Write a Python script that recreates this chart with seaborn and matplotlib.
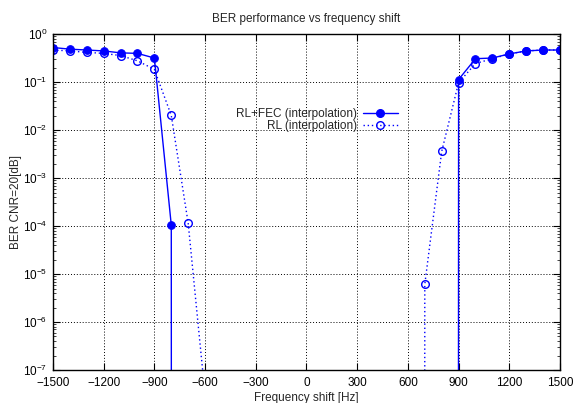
import numpy as np
import pandas as pd
import matplotlib
matplotlib.use("Agg")
import matplotlib.pyplot as plt
import seaborn as sns
from matplotlib.lines import Line2D
from matplotlib.ticker import LogLocator, FixedLocator

freq = [-1500, -1400, -1300, -1200, -1100, -1000, -900, -800, -700, -600, -500, -400,
        -300, -200, -100, 0, 100, 200, 300, 400, 500, 600, 700, 800, 900, 1000,
        1100, 1200, 1300, 1400, 1500]
ber_fec = [0.53, 0.49, 0.47, 0.45, 0.41, 0.40, 0.32, 1.05e-4, 0, 0, 0, 0,
           0, 0, 0, 0, 0, 0, 0, 0, 0, 0, 0, 0, 0.114, 0.31,
           0.32, 0.39, 0.45, 0.47, 0.47]
ber_rl = [0.47, 0.45, 0.42, 0.40, 0.36, 0.28, 0.185, 0.0203, 1.15e-4, 3e-8, 0, 0,
          0, 0, 0, 0, 0, 0, 0, 0, 0, 0, 6.1e-6, 3.6e-3, 0.098, 0.246,
          0.31, 0.39, 0.45, 0.47, 0.47]
xticks = [-1500, -1200, -900, -600, -300, 0, 300, 600, 900, 1200, 1500]
label_fec = "RL+FEC (interpolation)"
label_rl = "RL (interpolation)"

sns.set_style("ticks")
plt.rcParams["font.family"] = ["Liberation Sans", "DejaVu Sans"]
plt.rcParams["mathtext.default"] = "regular"

fig = plt.figure(figsize=(5.74, 4.03), dpi=100)
ax = fig.add_axes([0.0923, 0.0819, 0.8833, 0.833])

df = pd.DataFrame({"freq": freq, "fec": ber_fec, "rl": ber_rl})
blue = "#0000ff"
ms = 5.5
sns.lineplot(data=df, x="freq", y="fec", ax=ax, estimator=None, sort=False,
             color=blue, linewidth=1.0, marker="o", markersize=ms,
             markerfacecolor=blue, markeredgecolor=blue, legend=False)
sns.lineplot(data=df, x="freq", y="rl", ax=ax, estimator=None, sort=False,
             color=blue, linewidth=1.0, linestyle=(0, (1, 2)), marker="o", markersize=ms,
             markerfacecolor="none", markeredgecolor=blue, markeredgewidth=1.0, legend=False)

ax.set_yscale("log", nonpositive="clip")
ax.set_xlim(-1500, 1500)
ax.set_ylim(1e-7, 1)
ax.xaxis.set_major_locator(FixedLocator(xticks))
ax.yaxis.set_major_locator(LogLocator(base=10, numticks=20))
ax.yaxis.set_minor_locator(LogLocator(base=10, subs=np.arange(2, 10), numticks=20))
ax.yaxis.set_minor_formatter(matplotlib.ticker.NullFormatter())

ax.grid(True, which="major", color="black", linestyle=(0, (1, 2)), linewidth=0.7)
ax.tick_params(which="major", direction="in", length=5, width=0.8, top=True, right=True,
               labelsize=8.5, colors="black", pad=4)
ax.tick_params(axis="x", which="major", pad=5)
ax.tick_params(which="minor", direction="in", length=2.5, width=0.6, top=True, right=True)
for s in ax.spines.values():
    s.set_linewidth(1.0)
    s.set_color("black")
    s.set_visible(True)

ax.set_xlabel("Frequency shift [Hz]", fontsize=8.5, labelpad=2)
ax.set_ylabel("BER CNR=20[dB]", fontsize=8.5, labelpad=1)
ax.set_title("BER performance vs frequency shift", fontsize=8.5, pad=9)

handles = [
    Line2D([], [], color=blue, linewidth=1.0, marker="o", markersize=ms,
           markerfacecolor=blue, markeredgecolor=blue),
    Line2D([], [], color=blue, linewidth=1.0, linestyle=(0, (1, 2)), marker="o", markersize=ms,
           markerfacecolor="none", markeredgecolor=blue),
]
ax.legend(handles, [label_fec, label_rl], loc="upper right", bbox_to_anchor=(0.69, 0.795),
          frameon=False, markerfirst=False, handlelength=3.0, fontsize=8.5,
          labelspacing=0.05, handletextpad=0.5, borderaxespad=0)
for t in ax.get_legend().get_texts():
    t.set_ha("right")
ax.get_legend()._legend_box.align = "right"

fig.savefig("out.png", dpi=100)
